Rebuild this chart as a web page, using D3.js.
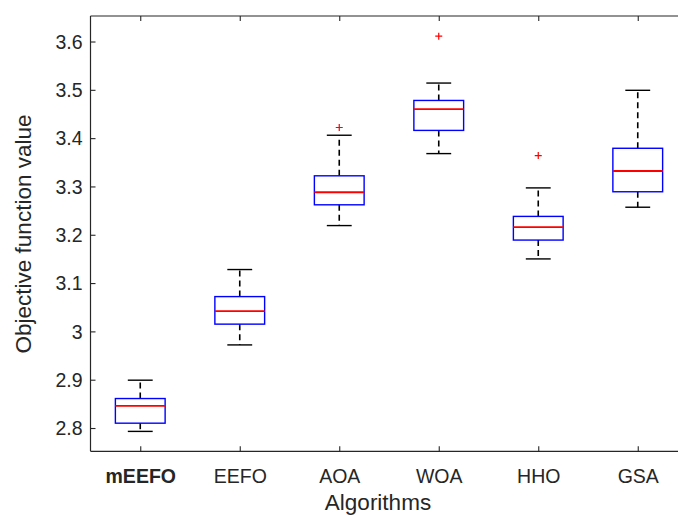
<!DOCTYPE html>
<html><head><meta charset="utf-8">
<script src="https://cdn.jsdelivr.net/npm/d3@7"></script>
<style>body{margin:0;background:#fff}svg{display:block}</style>
</head><body>
<svg id="c" width="678" height="515"></svg>
<script>
const categories = ["mEEFO","EEFO","AOA","WOA","HHO","GSA"];
const whiskerLow  = [2.793, 2.972, 3.219, 3.368, 3.150, 3.257];
const q1          = [2.810, 3.015, 3.262, 3.416, 3.189, 3.289];
const medians     = [2.846, 3.042, 3.288, 3.460, 3.216, 3.332];
const q3          = [2.861, 3.072, 3.322, 3.478, 3.238, 3.379];
const whiskerHigh = [2.899, 3.128, 3.406, 3.514, 3.297, 3.499];
const outliers    = [[], [], [3.422], [3.611], [3.364], []];
const yTicks = [2.8, 2.9, 3.0, 3.1, 3.2, 3.3, 3.4, 3.5, 3.6];

(function () {
const svg = d3.select("#c");
const font = "'Liberation Sans', Arial, Helvetica, sans-serif";
const axisColor = "#262626";
const pLeft = 90.5, pRight = 687.5, pTop = 16, pBottom = 451.3;

const x = d3.scaleLinear().domain([0.5, 6.5]).range([pLeft, pRight]);
const y = d3.scaleLinear().domain([2.7518, 3.6528]).range([pBottom, pTop]);

const data = categories.map((c, i) => ({
  c, pos: i + 1, lo: whiskerLow[i], q1: q1[i], med: medians[i], q3: q3[i], hi: whiskerHigh[i], out: outliers[i]
}));

const g = svg.append("g");

// whiskers (dashed)
g.selectAll(".wl").data(data).join("line")
  .attr("x1", d => x(d.pos)).attr("x2", d => x(d.pos))
  .attr("y1", d => y(d.q3)).attr("y2", d => y(d.hi))
  .attr("stroke", "#000").attr("stroke-width", 1.6).attr("stroke-dasharray", "6,4");
g.selectAll(".wl2").data(data).join("line")
  .attr("x1", d => x(d.pos)).attr("x2", d => x(d.pos))
  .attr("y1", d => y(d.q1)).attr("y2", d => y(d.lo))
  .attr("stroke", "#000").attr("stroke-width", 1.6).attr("stroke-dasharray", "6,4");

// caps
const capHalf = 0.125;
["hi", "lo"].forEach(k => {
  g.selectAll(".cap" + k).data(data).join("line")
    .attr("x1", d => x(d.pos - capHalf)).attr("x2", d => x(d.pos + capHalf))
    .attr("y1", d => y(d[k])).attr("y2", d => y(d[k]))
    .attr("stroke", "#000").attr("stroke-width", 1.4);
});

// boxes
const boxHalf = 0.25;
g.selectAll(".box").data(data).join("rect")
  .attr("x", d => x(d.pos - boxHalf)).attr("width", d => x(d.pos + boxHalf) - x(d.pos - boxHalf))
  .attr("y", d => y(d.q3)).attr("height", d => y(d.q1) - y(d.q3))
  .attr("fill", "none").attr("stroke", "#0000ff").attr("stroke-width", 1.4);

// medians
g.selectAll(".med").data(data).join("line")
  .attr("x1", d => x(d.pos - boxHalf)).attr("x2", d => x(d.pos + boxHalf))
  .attr("y1", d => y(d.med)).attr("y2", d => y(d.med))
  .attr("stroke", "#ff0000").attr("stroke-width", 1.8);

// outliers
const outs = data.flatMap(d => d.out.map(v => ({pos: d.pos, v})));
g.selectAll(".out").data(outs).join("path")
  .attr("d", d => `M${x(d.pos)-3.5},${y(d.v)}h7M${x(d.pos)},${y(d.v)-3.5}v7`)
  .attr("stroke", "#ff0000").attr("stroke-width", 1.2).attr("fill", "none");

// axes frame
svg.append("line").attr("x1", pLeft).attr("x2", 678).attr("y1", pTop).attr("y2", pTop)
  .attr("stroke", axisColor).attr("stroke-width", 1.2);
svg.append("line").attr("x1", pLeft).attr("x2", 678).attr("y1", pBottom).attr("y2", pBottom)
  .attr("stroke", axisColor).attr("stroke-width", 1.2);
svg.append("line").attr("x1", pLeft).attr("x2", pLeft).attr("y1", pTop).attr("y2", pBottom)
  .attr("stroke", axisColor).attr("stroke-width", 1.2);

// y axis ticks via d3 axis
const yAxis = d3.axisLeft(y).tickValues(yTicks).tickSize(-5).tickPadding(8)
  .tickFormat(d => String(+d.toFixed(1)));
const ya = svg.append("g").attr("transform", `translate(${pLeft},0)`).call(yAxis);
ya.select(".domain").remove();
ya.selectAll(".tick line").attr("stroke", axisColor).attr("stroke-width", 1.1);
ya.selectAll(".tick text").attr("fill", axisColor).attr("font-family", font).attr("font-size", 19.5)
  .attr("dy", "0.35em");

// x axis bottom
const xAxis = d3.axisBottom(x).tickValues(d3.range(1, 7)).tickSize(-5).tickPadding(18)
  .tickFormat(d => categories[d - 1]);
const xa = svg.append("g").attr("transform", `translate(0,${pBottom})`).call(xAxis);
xa.select(".domain").remove();
xa.selectAll(".tick line").attr("stroke", axisColor).attr("stroke-width", 1.1);
xa.selectAll(".tick text").attr("fill", axisColor).attr("font-family", font).attr("font-size", 19.5)
  .attr("font-weight", d => d === 1 ? "bold" : "normal");

// x axis top ticks
const xTop = d3.axisTop(x).tickValues(d3.range(1, 7)).tickSize(-5).tickFormat("");
const xt = svg.append("g").attr("transform", `translate(0,${pTop})`).call(xTop);
xt.select(".domain").remove();
xt.selectAll(".tick line").attr("stroke", axisColor).attr("stroke-width", 1.1);

// labels
svg.append("text").attr("x", 378).attr("y", 510).attr("text-anchor", "middle")
  .attr("font-family", font).attr("font-size", 22.5).attr("fill", axisColor).text("Algorithms");
svg.append("text").attr("transform", `translate(31,234) rotate(-90)`).attr("text-anchor", "middle")
  .attr("font-family", font).attr("font-size", 22.5).attr("fill", axisColor).text("Objective function value");
})();
</script>
</body></html>
